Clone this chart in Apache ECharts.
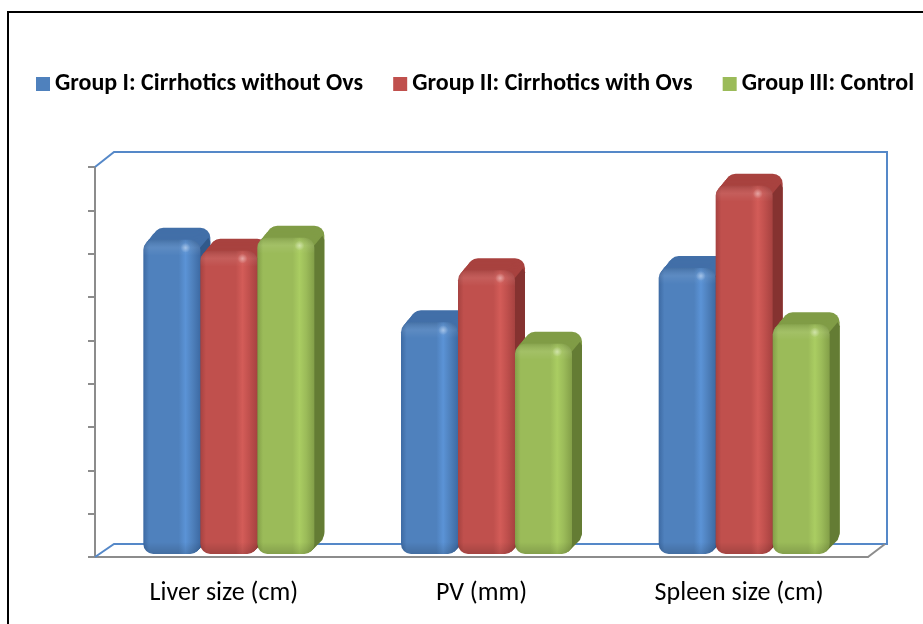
<!DOCTYPE html>
<html>
<head>
<meta charset="utf-8">
<script src="https://cdn.jsdelivr.net/npm/echarts@6/dist/echarts.min.js"></script>
<style>
  html, body { margin: 0; padding: 0; background: #fff; }
  #chart { width: 923px; height: 624px; }
</style>
</head>
<body>
<div id="chart"></div>
<script>
// 数据
const categories = ['Liver size (cm)', 'PV (mm)', 'Spleen size (cm)']
const groupNames = ['Group I: Cirrhotics without Ovs', 'Group II: Cirrhotics with Ovs', 'Group III: Control']
const group1 = [14.5, 10.7, 13.2]
const group2 = [14.0, 13.1, 17.0]
const group3 = [14.6, 9.7, 10.6]
const yMax = 18
const yStep = 2

const FONT = 'Carlito, Lato, "Noto Sans", sans-serif'

// 颜色：正面 / 高光 / 顶面 / 侧面
const palette = [
  {base: '#4f81bd', light: '#5b93d6', dark: '#3d6aa3', top: '#426fa8', side: '#31598a'},
  {base: '#c0504d', light: '#d35c58', dark: '#a64240', top: '#a8423f', side: '#853230'},
  {base: '#9bbb59', light: '#aacd62', dark: '#839f48', top: '#809c46', side: '#647c34'}
]

const BAR_W = 57
const DEPTH_X = 10
const DEPTH_Y = 12
const SHIFT_X = 5
const SHIFT_Y = 3
const WALL_X = 19
const WALL_Y = 13

function renderBar(g) {
  const c = palette[g]
  return function (params, api) {
    const ci = api.value(0)
    const base = api.coord([ci, 0])
    const top = api.coord([ci, api.value(1)])
    const x = base[0] - 1.5 * BAR_W + g * BAR_W + SHIFT_X
    const yB = base[1] - SHIFT_Y
    const yT = top[1] - SHIFT_Y
    const h = yB - yT
    const r = 10
    const children = []
    // 立体部分：层叠的后移矩形
    const steps = 10
    for (let k = steps; k >= 1; k--) {
      children.push({
        type: 'rect',
        shape: {x: x + k * DEPTH_X / steps, y: yT - k * DEPTH_Y / steps, width: BAR_W, height: h, r: r},
        style: {fill: c.top}
      })
    }
    // 右侧面
    children.push({
      type: 'polygon',
      shape: {points: [
        [x + BAR_W - 2, yT + r],
        [x + BAR_W - 2 + DEPTH_X, yT + r - DEPTH_Y],
        [x + BAR_W + DEPTH_X, yT + r - DEPTH_Y + 4],
        [x + BAR_W + DEPTH_X, yB - DEPTH_Y - r + 2],
        [x + BAR_W - 2 + DEPTH_X, yB - DEPTH_Y - 2],
        [x + BAR_W - 4, yB - 2]
      ]},
      style: {fill: c.side}
    })
    // 正面
    children.push({
      type: 'rect',
      shape: {x: x, y: yT, width: BAR_W, height: h, r: r},
      style: {
        fill: new echarts.graphic.LinearGradient(0, 0, 1, 0, [
          {offset: 0, color: c.dark},
          {offset: 0.1, color: c.base},
          {offset: 0.62, color: c.base},
          {offset: 0.74, color: c.light},
          {offset: 0.86, color: c.base},
          {offset: 1, color: c.dark}
        ])
      }
    })
    // 顶部倒角
    children.push({
      type: 'rect',
      shape: {x: x, y: yT, width: BAR_W, height: 16, r: [r, r, 0, 0]},
      style: {
        fill: new echarts.graphic.LinearGradient(0, 0, 0, 1, [
          {offset: 0, color: 'rgba(0,0,0,0.12)'},
          {offset: 0.5, color: 'rgba(255,255,255,0.08)'},
          {offset: 1, color: 'rgba(255,255,255,0)'}
        ])
      }
    })
    // 高光点
    children.push({
      type: 'circle',
      shape: {cx: x + BAR_W * 0.74, cy: yT + 8, r: 5},
      style: {
        fill: new echarts.graphic.RadialGradient(0.5, 0.5, 0.5, [
          {offset: 0, color: 'rgba(255,255,255,0.4)'},
          {offset: 1, color: 'rgba(255,255,255,0)'}
        ])
      }
    })
    // 底部阴影
    children.push({
      type: 'rect',
      shape: {x: x, y: yB - 12, width: BAR_W, height: 12, r: [0, 0, r, r]},
      style: {
        fill: new echarts.graphic.LinearGradient(0, 0, 0, 1, [
          {offset: 0, color: 'rgba(0,0,0,0)'},
          {offset: 1, color: 'rgba(0,0,0,0.15)'}
        ])
      }
    })
    return {type: 'group', children: children}
  }
}

// 背景墙
function renderWall(params, api) {
  const cs = params.coordSys
  const x0 = cs.x, x1 = cs.x + cs.width
  const yTop = cs.y, yBot = cs.y + cs.height
  const blue = '#5588c8'
  return {
    type: 'group',
    silent: true,
    children: [
      {
        type: 'polyline',
        shape: {points: [
          [x0, yBot], [x0 + WALL_X, yBot - WALL_Y], [x1 + WALL_X, yBot - WALL_Y],
          [x1 + WALL_X, yTop - WALL_Y - 2], [x0 + WALL_X, yTop - WALL_Y - 2], [x0, yTop]
        ]},
        style: {stroke: blue, lineWidth: 2, fill: null}
      },
      {
        type: 'line',
        shape: {x1: x1, y1: yBot, x2: x1 + WALL_X - 2, y2: yBot - WALL_Y},
        style: {stroke: '#8c8c8c', lineWidth: 2}
      }
    ]
  }
}

function toData(arr) {
  return arr.map((v, i) => [i, v])
}

const chart = echarts.init(document.getElementById('chart'))
chart.setOption({
  animation: false,
  backgroundColor: '#fff',
  textStyle: {fontFamily: FONT},
  graphic: [{
    type: 'rect',
    shape: {x: 8, y: 12, width: 940, height: 640},
    style: {fill: null, stroke: '#000', lineWidth: 2},
    z: -10
  }],
  legend: {
    left: 36,
    top: 72,
    width: 887,
    padding: 0,
    itemWidth: 14,
    itemHeight: 14,
    itemGap: 30,
    icon: 'rect',
    data: groupNames,
    textStyle: {fontFamily: FONT, fontSize: 24, fontWeight: 'bold', color: '#000'}
  },
  grid: {left: 95, right: 55, top: 167, bottom: 67},
  xAxis: {
    type: 'category',
    data: categories,
    axisLine: {lineStyle: {color: '#8c8c8c', width: 2}},
    axisTick: {length: 8, lineStyle: {color: '#8c8c8c', width: 2}},
    axisLabel: {fontSize: 26, color: '#000', margin: 23, fontFamily: FONT}
  },
  yAxis: {
    type: 'value',
    min: 0,
    max: yMax,
    interval: yStep,
    axisLine: {show: true, lineStyle: {color: '#8c8c8c', width: 2}},
    axisTick: {show: true, length: 7, lineStyle: {color: '#8c8c8c', width: 2}},
    axisLabel: {show: false},
    splitLine: {show: false}
  },
  series: [
    {type: 'custom', name: 'wall', renderItem: renderWall, data: [[0, 0]], z: 1, silent: true},
    {type: 'custom', name: groupNames[0], renderItem: renderBar(0), data: toData(group1), itemStyle: {color: palette[0].base}, z: 2},
    {type: 'custom', name: groupNames[1], renderItem: renderBar(1), data: toData(group2), itemStyle: {color: palette[1].base}, z: 2},
    {type: 'custom', name: groupNames[2], renderItem: renderBar(2), data: toData(group3), itemStyle: {color: palette[2].base}, z: 2}
  ]
})
</script>
</body>
</html>
